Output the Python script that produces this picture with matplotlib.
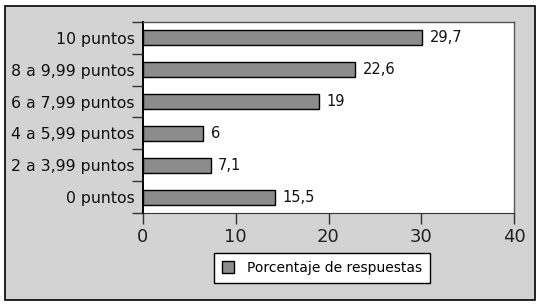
import numpy as np
import matplotlib.pyplot as plt
from matplotlib.patches import Rectangle

# data, bottom to top as drawn
categories = ["0 puntos", "2 a 3,99 puntos", "4 a 5,99 puntos",
              "6 a 7,99 puntos", "8 a 9,99 puntos", "10 puntos"]
bar_lengths = [14.2, 7.3, 6.5, 19.0, 22.9, 30.1]   # as drawn in the picture
value_labels = ["15,5", "7,1", "6", "19", "22,6", "29,7"]
x_ticks = [0, 10, 20, 30, 40]

plt.rcParams['font.family'] = ['DejaVu Sans']

fig = plt.figure(figsize=(5.41, 3.06), dpi=100)
fig.patch.set_facecolor("white")

# gray panel with black border
W, H = 541, 306
fig.patches.append(Rectangle((5 / W, 6 / H), 530 / W, 294 / H,
                             transform=fig.transFigure, facecolor="#d3d3d3",
                             edgecolor="black", linewidth=1.2, zorder=-10))

ax = fig.add_axes([143 / W, 1 - 213 / H, 371 / W, 191 / H])
ax.set_facecolor("white")

y = np.arange(len(categories))
bars = ax.barh(y, bar_lengths, height=0.47, color="#8c8c8c", edgecolor="black",
               linewidth=1.0, zorder=3)
for yi, v, lab in zip(y, bar_lengths, value_labels):
    ax.text(v + 0.8, yi, lab, va="center", ha="left", fontsize=10.5,
            color="#111111")

ax.set_xlim(0, 40)
ax.set_ylim(-0.5, len(categories) - 0.5)
ax.set_xticks(x_ticks)
ax.set_xticklabels([str(t) for t in x_ticks], fontsize=13, color="#222222")
ax.tick_params(axis="x", length=8, width=1.0, pad=3, color="#333333")

ax.set_yticks(y)
ax.set_yticklabels(categories, fontsize=11.3, color="#111111")
ax.tick_params(axis="y", which="major", length=0, pad=6)
ax.set_yticks(np.arange(-0.5, len(categories)), minor=True)
ax.tick_params(axis="y", which="minor", length=8, width=1.0, color="#333333")

for s in ["top", "right"]:
    ax.spines[s].set_color("#555555")
    ax.spines[s].set_linewidth(1.0)
ax.spines["bottom"].set_color("#333333")
ax.spines["left"].set_color("black")
ax.spines["left"].set_linewidth(1.4)

leg = fig.legend([bars], ["Porcentaje de respuestas"], loc="center",
                 bbox_to_anchor=(322 / W, 1 - 268 / H), frameon=True,
                 fancybox=False, fontsize=10, handlelength=0.9,
                 handleheight=0.9, borderpad=0.6, handletextpad=0.9,
                 borderaxespad=0)
leg.get_frame().set_edgecolor("black")
leg.get_frame().set_linewidth(1.0)
leg.get_frame().set_facecolor("white")
leg.get_frame().set_alpha(1)

fig.savefig("out.png", dpi=100)
